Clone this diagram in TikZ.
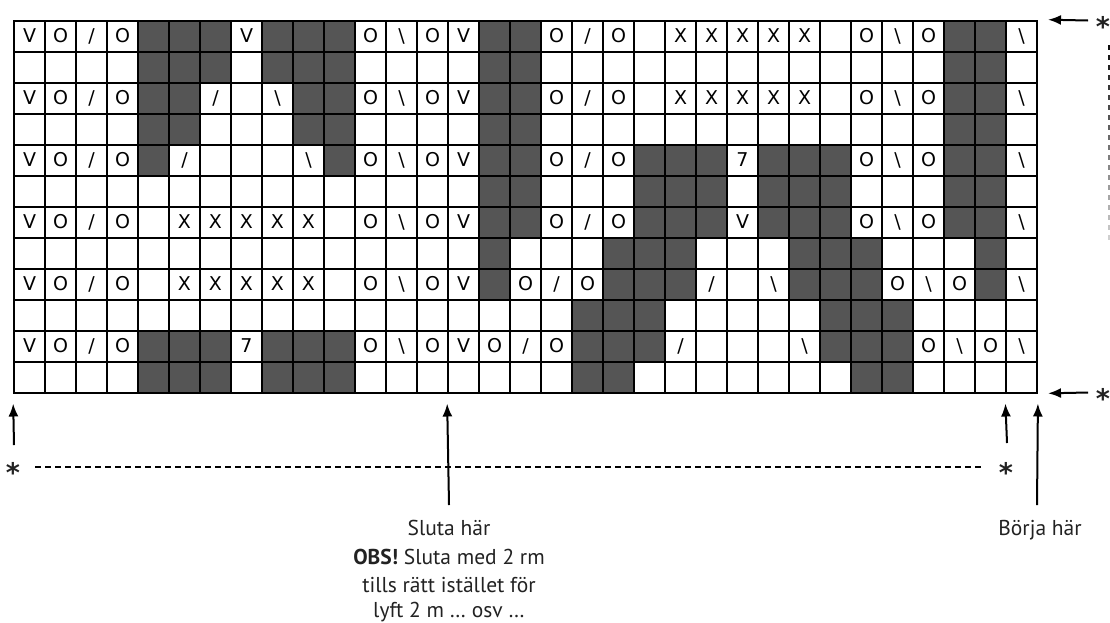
\documentclass[tikz,border=0pt]{standalone}
\usepackage{fontspec}
\setmainfont{PT Sans}
\newfontfamily\cellfont{DejaVu Sans}
\usetikzlibrary{arrows.meta}
\definecolor{darkcell}{HTML}{555555}
\definecolor{notecol}{HTML}{222222}
\tikzset{
  cell/.style={draw=black, line width=2pt, minimum size=31pt, inner sep=0pt,
    font=\cellfont\fontsize{19}{19}\selectfont},
  symV/.style={node contents=V},
  symO/.style={node contents=O},
  syms/.style={node contents=/},
  symb/.style={node contents=\textbackslash},
  symX/.style={node contents=X},
  sym7/.style={node contents=7},
  symd/.style={fill=darkcell, node contents={}},
  syme/.style={node contents={}},
  arr/.style={line width=2pt, -{Latex[length=13pt,width=10pt]}},
  dashline/.style={line width=1.6pt, dash pattern=on 6pt off 4pt},
  note/.style={text=notecol, font=\fontsize{21.5}{28.5}\selectfont, align=center, inner sep=0pt},
  star/.style={text=notecol, font=\cellfont\bfseries\fontsize{27}{27}\selectfont, inner sep=0pt, anchor=base},
}
\begin{document}
\begin{tikzpicture}[x=1pt,y=-1pt]
\useasboundingbox (0,0) rectangle (1110,622);
\foreach \rowdata [count=\r from 0] in {%
 {V,O,s,O,d,d,d,V,d,d,d,O,b,O,V,d,d,O,s,O,e,X,X,X,X,X,e,O,b,O,d,d,b},%
 {e,e,e,e,d,d,d,e,d,d,d,e,e,e,e,d,d,e,e,e,e,e,e,e,e,e,e,e,e,e,d,d,e},%
 {V,O,s,O,d,d,s,e,b,d,d,O,b,O,V,d,d,O,s,O,e,X,X,X,X,X,e,O,b,O,d,d,b},%
 {e,e,e,e,d,d,e,e,e,d,d,e,e,e,e,d,d,e,e,e,e,e,e,e,e,e,e,e,e,e,d,d,e},%
 {V,O,s,O,d,s,e,e,e,b,d,O,b,O,V,d,d,O,s,O,d,d,d,7,d,d,d,O,b,O,d,d,b},%
 {e,e,e,e,e,e,e,e,e,e,e,e,e,e,e,d,d,e,e,e,d,d,d,e,d,d,d,e,e,e,d,d,e},%
 {V,O,s,O,e,X,X,X,X,X,e,O,b,O,V,d,d,O,s,O,d,d,d,V,d,d,d,O,b,O,d,d,b},%
 {e,e,e,e,e,e,e,e,e,e,e,e,e,e,e,d,e,e,e,d,d,d,e,e,e,d,d,d,e,e,e,d,e},%
 {V,O,s,O,e,X,X,X,X,X,e,O,b,O,V,d,O,s,O,d,d,d,s,e,b,d,d,d,O,b,O,d,b},%
 {e,e,e,e,e,e,e,e,e,e,e,e,e,e,e,e,e,e,d,d,d,e,e,e,e,e,d,d,d,e,e,e,e},%
 {V,O,s,O,d,d,d,7,d,d,d,O,b,O,V,O,s,O,d,d,d,s,e,e,e,b,d,d,d,O,b,O,b},%
 {e,e,e,e,d,d,d,e,d,d,d,e,e,e,e,e,e,e,d,d,e,e,e,e,e,e,e,d,d,e,e,e,e}}{%
  \foreach \code [count=\c from 0] in \rowdata {%
    \node[cell, sym\code, name=n\r x\c, at={(29.5+31*\c, 36+31*\r)}];
  }
}
% right side arrows and stars
\coordinate (ta) at (1088,20.5);
\coordinate (ba) at (1088,392.5);
\draw[arr, shorten >=10pt] (ta) -- (n0x32.north east);
\draw[arr, shorten >=10pt] (ba) -- (n11x32.south east);
\node[star] (str) at (1103,36) {*};
\node[star] (sbr) at (1103,408) {*};
\foreach \i in {0,...,19} {
  \pgfmathtruncatemacro\shd{95-4*\i}
  \draw[line width=2pt, black!\shd] (1108.5,45+10*\i) -- (1108.5,50+10*\i);
}
% bottom arrows
\coordinate (la) at (14,445);
\coordinate (ma) at (449,505);
\coordinate (ra) at (1007,443);
\coordinate (ea) at (1037,505);
\draw[arr, shorten >=10pt] (la) -- (n11x0.south west);
\draw[arr, shorten >=10pt] (ma) -- (n11x14.south west);
\draw[arr, shorten >=10pt] (ra) -- (n11x32.south west);
\draw[arr, shorten >=10pt] (ea) -- (n11x32.south east);
% repeat line with stars
\node[star] (sl) at (13,482.5) {*};
\node[star] (sr) at (1006,482.5) {*};
\coordinate (dl) at (35,467);
\coordinate (dr) at (984,467);
\draw[dashline] (dl) -- (dr);
% notes
\node[note, anchor=base] (stop) at (449,617) {Sluta här\\ \textbf{OBS!} Sluta med 2 rm\\ tills rätt istället för\\[-4pt] lyft 2 m … osv …};
\node[note, anchor=base] (start) at (1040,535) {Börja här};
\end{tikzpicture}
\end{document}
